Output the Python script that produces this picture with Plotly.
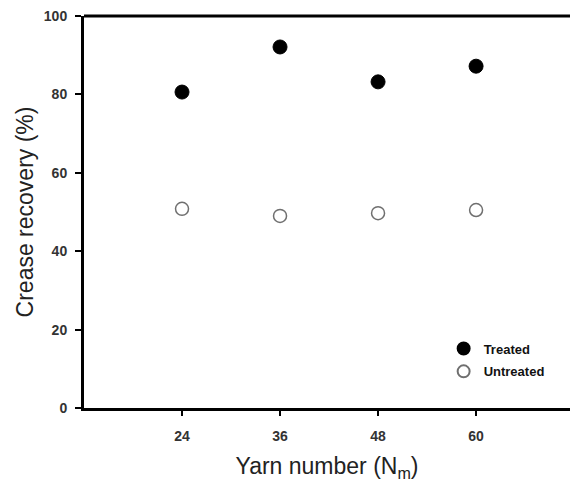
import plotly.graph_objects as go

yarn_numbers = [24, 36, 48, 60]
treated = [80.6, 92.1, 83.2, 87.2]
untreated = [50.8, 49.0, 49.7, 50.5]
x_ticks = [24, 36, 48, 60]
y_ticks = [0, 20, 40, 60, 80, 100]

fig = go.Figure()
fig.add_trace(go.Scatter(
    x=yarn_numbers, y=treated, mode="markers", name="<b>Treated</b>",
    legendgroup="t",
    marker=dict(symbol="circle", size=14, color="black", line=dict(color="black", width=1)),
))
fig.add_trace(go.Scatter(
    x=yarn_numbers, y=untreated, mode="markers", name="<b>Untreated</b>",
    legendgroup="u",
    marker=dict(symbol="circle-open", size=13, color="#6f6f6f", line=dict(width=1.5)),
))

fig.update_layout(
    width=570, height=483,
    margin=dict(l=84, r=0, t=16, b=75, autoexpand=False),
    plot_bgcolor="white", paper_bgcolor="white",
    font=dict(family="Liberation Sans, Arial", color="#222222"),
    showlegend=True,
    legend=dict(
        x=0.74, y=0.19, xanchor="left", yanchor="top",
        font=dict(size=13, color="#111111", family="Liberation Sans, Arial"),
        bgcolor="rgba(0,0,0,0)", itemsizing="constant", tracegroupgap=3,
    ),
    xaxis=dict(
        range=[12, 71.5], tickvals=x_ticks, ticktext=[f"<b>{v}</b>" for v in x_ticks],
        showline=True, linecolor="black", linewidth=3, mirror=False,
        ticks="outside", ticklen=5, tickwidth=2, tickcolor="black",
        showgrid=False, zeroline=False, ticklabelstandoff=8,
        tickfont=dict(size=14, color="#333333"),
        title=dict(text="Yarn number (N<sub>m</sub>)", font=dict(size=23, color="#222222"), standoff=16),
    ),
    yaxis=dict(
        range=[0, 100], tickvals=y_ticks, ticktext=[f"<b>{v}</b>" for v in y_ticks],
        showline=True, linecolor="black", linewidth=3,
        ticks="outside", ticklen=6, tickwidth=2, tickcolor="black",
        showgrid=False, zeroline=False, ticklabelstandoff=5,
        tickfont=dict(size=14, color="#333333"),
        title=dict(text="Crease recovery (%)", font=dict(size=23, color="#222222"), standoff=4),
    ),
)
# top border line
fig.add_shape(type="line", xref="paper", yref="paper", x0=0, x1=1, y0=1, y1=1,
              line=dict(color="black", width=3))

fig.write_html("out.html", config={"displayModeBar": False},
               post_script="document.body.style.margin='0';document.body.style.overflow='hidden';")
